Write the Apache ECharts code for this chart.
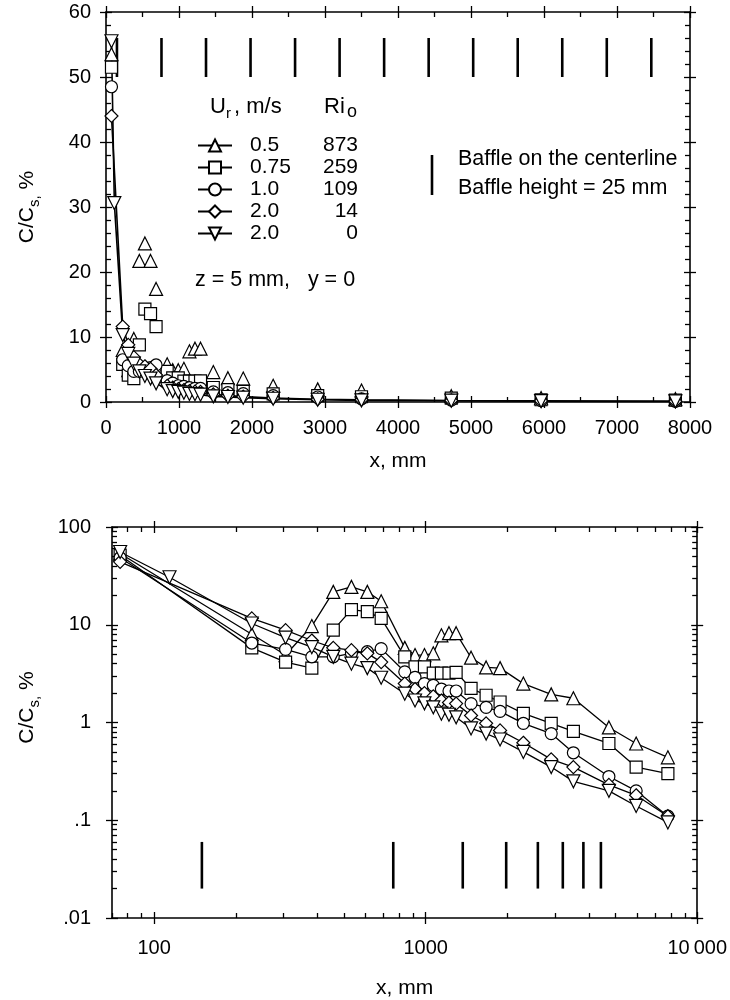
<!DOCTYPE html>
<html><head><meta charset="utf-8">
<script src="https://cdn.jsdelivr.net/npm/echarts@6/dist/echarts.min.js"></script>
<style>html,body{margin:0;padding:0;background:#fff}#c{width:730px;height:1000px}</style>
</head><body><div id="c"></div>
<script>
// ---------------- data ----------------
const xMm = [75, 114, 229, 305, 381, 457, 533, 610, 686, 838, 914, 990, 1067, 1143, 1219, 1295, 1470, 1670, 1880, 2290, 2900, 3500, 4730, 5960, 7800];
const urLabels = ['0.5', '0.75', '1.0', '2.0', '2.0'];
const riLabels = ['873', '259', '109', '14', '0'];
const cTriangle = [53.5, null, 8.0, 4.9, 9.7, 21.7, 24.4, 21.7, 17.4, 5.8, 4.9, 4.9, 5.1, 7.8, 8.2, 8.2, 4.6, 3.66, 3.6, 2.5, 1.94, 1.77, 0.89, 0.61, 0.44];
const cSquare   = [51.5, null, 5.8, 4.15, 3.6, 8.8, 14.3, 13.6, 11.6, 4.7, 3.7, 3.7, 3.2, 3.2, 3.2, 3.26, 2.23, 1.9, 1.62, 1.24, 0.98, 0.81, 0.61, 0.35, 0.30];
const cCircle   = [48.5, null, 6.5, 5.6, 4.7, 4.7, 5.1, 5.3, 5.7, 3.3, 2.9, 2.5, 2.4, 2.2, 2.1, 2.1, 1.56, 1.43, 1.30, 0.98, 0.77, 0.49, 0.28, 0.20, 0.11];
const cDiamond  = [44.0, null, 11.6, 8.8, 6.9, 5.8, 5.5, 5.1, 4.15, 2.5, 2.2, 2.0, 1.85, 1.68, 1.6, 1.56, 1.18, 0.98, 0.83, 0.62, 0.42, 0.35, 0.23, 0.18, 0.11];
const cInvTri   = [55.5, 30.6, 10.3, 7.4, 5.9, 4.7, 4.0, 3.6, 2.87, 1.97, 1.68, 1.57, 1.43, 1.23, 1.2, 1.13, 0.87, 0.77, 0.67, 0.50, 0.35, 0.25, 0.20, 0.14, 0.095];
const baffleTopX = [150, 760, 1370, 1980, 2590, 3200, 3810, 4420, 5030, 5640, 6250, 6860, 7470];
const baffleBottomX = [150, 760, 1370, 1980, 2590, 3200, 3810, 4420];
const baffleTopSpan = [50, 56];
const baffleBottomSpan = [0.02, 0.06];
const logXLabelValues = [100, 1000, 10000];
const logYLabelValues = [0.01, 0.1, 1, 10, 100];

// ---------------- styling ----------------
const FONT = '"Liberation Sans", Arial, sans-serif';
const BLACK = '#000';
const allVals = [cTriangle, cSquare, cCircle, cDiamond, cInvTri];
const shapes = [
  {symbol: 'triangle', rotate: 0, size: 13},
  {symbol: 'rect', rotate: 0, size: 12},
  {symbol: 'circle', rotate: 0, size: 12},
  {symbol: 'diamond', rotate: 0, size: 13},
  {symbol: 'triangle', rotate: 180, size: 13}
];
const names = urLabels.map((u, i) => u + '|' + riLabels[i]);
const topLined = [false, false, false, true, true];

function pts(vals) {
  return xMm.map((x, i) => [x, vals[i]]).filter(d => d[1] != null);
}
function minorLog(lo, hi) {
  const out = [];
  for (let d = 1e-3; d <= hi; d *= 10) for (let k = 2; k <= 9; k++) {
    const v = +(d * k).toPrecision(6);
    if (v >= lo && v <= hi) out.push(v);
  }
  return out;
}
function decades(lo, hi) {
  const out = [];
  for (let d = 1e-4; d <= hi * 1.0001; d *= 10) { const v = +d.toPrecision(6); if (v >= lo * 0.9999) out.push(v); }
  return out;
}
const tickLine = {color: BLACK, width: 1.3};
const axLine = {show: true, onZero: false, lineStyle: {color: BLACK, width: 1.6}};
const noLine = {show: false, onZero: false};
const LABEL_SIZE = 20;

// linear (top chart) axes
function linAxis(dim, pos, inside, main) {
  const isX = dim === 'x';
  return {
    type: 'value', gridIndex: 0, position: pos,
    min: 0, max: isX ? 8000 : 60, interval: isX ? 1000 : 10,
    axisLine: main ? axLine : noLine,
    axisTick: {show: true, inside: inside, length: 6, lineStyle: tickLine},
    minorTick: {show: main, splitNumber: isX ? 2 : 5, length: 5, lineStyle: tickLine},
    axisLabel: {show: main && (pos === 'bottom' || pos === 'left'), color: BLACK, fontSize: LABEL_SIZE, fontFamily: FONT,
      margin: isX ? 16 : 15, formatter: v => String(v)},
    splitLine: {show: false}, minorSplitLine: {show: false}
  };
}
// log (bottom chart) axes
function logAxis(dim, pos, kind) {
  const isX = dim === 'x';
  const lo = isX ? 70 : 0.01, hi = isX ? 10000 : 100;
  const major = decades(lo, hi);
  const ticks = kind === 'minor' ? minorLog(lo, hi) : major;
  const showLabel = kind === 'main' && (pos === 'bottom' || pos === 'left');
  return {
    type: 'log', logBase: 10, gridIndex: 1, position: pos, min: lo, max: hi,
    axisLine: kind === 'main' ? axLine : noLine,
    axisTick: {show: true, inside: kind !== 'out', length: kind === 'minor' ? 5 : 6, customValues: ticks, lineStyle: tickLine},
    minorTick: {show: false},
    axisLabel: {
      show: showLabel, customValues: isX ? logXLabelValues : logYLabelValues,
      color: BLACK, fontSize: LABEL_SIZE, fontFamily: FONT, margin: isX ? 20 : 21,
      formatter: function (v) {
        const n = +(+v).toPrecision(6);
        if (n === 10000) return '10\u2009000';
        if (n < 1) return String(n).replace(/^0/, '');
        return String(n);
      }
    },
    splitLine: {show: false}, minorSplitLine: {show: false}
  };
}

const xAxes = [
  linAxis('x', 'bottom', true, true), linAxis('x', 'bottom', false, false),
  linAxis('x', 'top', true, true), linAxis('x', 'top', false, false),
  logAxis('x', 'bottom', 'main'), logAxis('x', 'bottom', 'out'), logAxis('x', 'bottom', 'minor'),
  logAxis('x', 'top', 'main'), logAxis('x', 'top', 'out'), logAxis('x', 'top', 'minor')
];
const yAxes = [
  linAxis('y', 'left', true, true), linAxis('y', 'left', false, false),
  linAxis('y', 'right', true, true), linAxis('y', 'right', false, false),
  logAxis('y', 'left', 'main'), logAxis('y', 'left', 'out'), logAxis('y', 'left', 'minor'),
  logAxis('y', 'right', 'main'), logAxis('y', 'right', 'out'), logAxis('y', 'right', 'minor')
];
const xName = {name: 'x, mm', nameLocation: 'middle', nameTextStyle: {color: BLACK, fontSize: 21, fontFamily: FONT}};
Object.assign(xAxes[0], xName, {nameGap: 49});
Object.assign(xAxes[4], xName, {nameGap: 60});
function yNameText(pad) {
  return {
    color: BLACK, fontSize: 21, fontFamily: FONT, padding: pad,
    rich: {
      a: {fontSize: 21, fontFamily: FONT, color: BLACK, lineHeight: 30, verticalAlign: 'middle'},
      s: {fontSize: 15, fontFamily: FONT, color: BLACK, lineHeight: 30, verticalAlign: 'bottom'}
    }
  };
}
const yNameStr = '{a|C/C}{s|s,}{a| %}';
Object.assign(yAxes[0], {name: yNameStr, nameLocation: 'middle', nameRotate: 90, nameGap: 64, nameTextStyle: yNameText([0, 0, 0, 0])});
Object.assign(yAxes[4], {name: yNameStr, nameLocation: 'middle', nameRotate: 90, nameGap: 70, nameTextStyle: yNameText([0, 0, 0, 30])});

// ---------------- series ----------------
const series = [];
// bottom (log) chart first so the legend takes its icons from it
allVals.forEach((vals, i) => {
  series.push({
    name: names[i], type: 'line', xAxisIndex: 4, yAxisIndex: 4,
    data: pts(vals), connectNulls: true,
    symbol: shapes[i].symbol, symbolRotate: shapes[i].rotate, symbolSize: shapes[i].size,
    itemStyle: {color: '#fff', borderColor: BLACK, borderWidth: 1.2},
    lineStyle: {color: BLACK, width: 1.3},
    emphasis: {disabled: true}, animation: false, z: 3
  });
});
allVals.forEach((vals, i) => {
  series.push({
    name: names[i], type: 'line', xAxisIndex: 0, yAxisIndex: 0,
    data: pts(vals), connectNulls: true,
    symbol: shapes[i].symbol, symbolRotate: shapes[i].rotate, symbolSize: shapes[i].size,
    itemStyle: {color: '#fff', borderColor: BLACK, borderWidth: 1.2},
    lineStyle: {color: BLACK, width: topLined[i] ? 1.6 : 0, opacity: topLined[i] ? 1 : 0},
    emphasis: {disabled: true}, animation: false, z: 3
  });
});
function baffleSeries(xs, span, xi, yi) {
  return {
    type: 'custom', xAxisIndex: xi, yAxisIndex: yi, silent: true, animation: false, z: 2,
    data: xs.map(x => [x, span[0], span[1]]),
    encode: {x: 0, y: [1, 2]},
    renderItem: function (params, api) {
      const a = api.coord([api.value(0), api.value(1)]);
      const b = api.coord([api.value(0), api.value(2)]);
      return {type: 'line', shape: {x1: a[0], y1: a[1], x2: b[0], y2: b[1]}, style: {stroke: BLACK, lineWidth: 2.6}};
    }
  };
}
series.push(baffleSeries(baffleTopX, baffleTopSpan, 0, 0));
series.push(baffleSeries(baffleBottomX, baffleBottomSpan, 4, 4));

// ---------------- text annotations ----------------
const txt = (x, y, text, size, extra) => Object.assign({
  type: 'text', x: x, y: y, silent: true,
  style: Object.assign({text: text, fill: BLACK, fontSize: size, fontFamily: FONT, verticalAlign: 'middle', align: 'left'}, extra || {})
});
const graphic = [
  txt(210, 107, 'U', 22),
  txt(226, 114, 'r', 15),
  txt(234, 107, ', m/s', 22),
  txt(324, 107, 'Ri', 22),
  txt(347, 112, 'o', 18),
  txt(195, 280, 'z = 5 mm,   y = 0', 21.5),
  txt(458, 159, 'Baffle on the centerline', 21.5),
  txt(458, 188, 'Baffle height = 25 mm', 21.5),
  {type: 'line', silent: true, shape: {x1: 432, y1: 155, x2: 432, y2: 195}, style: {stroke: BLACK, lineWidth: 2.6}}
];

const chart = echarts.init(document.getElementById('c'), null, {renderer: 'canvas'});
chart.setOption({
  backgroundColor: '#fff',
  animation: false,
  grid: [
    {left: 106, top: 12, width: 584, height: 390, containLabel: false},
    {left: 112, top: 527, width: 588, height: 391, containLabel: false}
  ],
  xAxis: xAxes,
  yAxis: yAxes,
  legend: {
    data: names, orient: 'vertical', left: 197, top: 135, padding: 0,
    itemWidth: 34, itemHeight: 15, itemGap: 1, selectedMode: false,
    textStyle: {color: BLACK, fontSize: 21, fontFamily: FONT, lineHeight: 15,
      rich: {u: {width: 62, padding: [0, 0, 0, 13], fontSize: 21, fontFamily: FONT, color: BLACK, lineHeight: 15},
             r: {width: 46, align: 'right', fontSize: 21, fontFamily: FONT, color: BLACK, lineHeight: 15}}},
    formatter: function (name) { const p = name.split('|'); return '{u|' + p[0] + '}{r|' + p[1] + '}'; }
  },
  graphic: graphic,
  series: series
});
</script></body></html>
